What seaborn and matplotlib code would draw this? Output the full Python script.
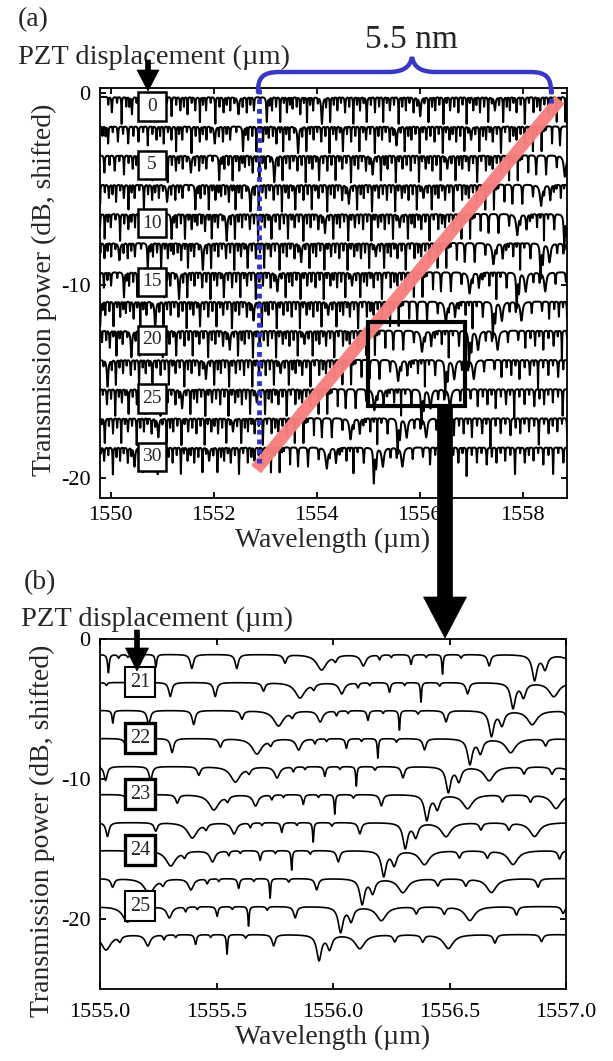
import numpy as np
import pandas as pd
import matplotlib
matplotlib.use("Agg")
import matplotlib.pyplot as plt
import seaborn as sns
from matplotlib.patches import Rectangle, Polygon, PathPatch
from matplotlib.path import Path

sns.set_style("ticks")
plt.rcParams["font.family"] = ["Liberation Serif", "DejaVu Serif"]
plt.rcParams["axes.unicode_minus"] = False

W, H = 613, 1061

# -------- DATA --------
SHIFT = 0.185  # nm of dip shift per um of PZT displacement

# panel (a): PZT displacement (um) and vertical offset of each trace (dB)
DISP_A = [0, 2.5, 5, 7.5, 10, 12.5, 15, 17.5, 20, 22.5, 25, 27.5, 30]
BASE_A = [-0.20, -1.72, -3.23, -4.75, -6.27, -7.78, -9.30, -10.82,
          -12.33, -13.85, -15.37, -16.88, -18.40]
LABEL_A = [0, 5, 10, 15, 20, 25, 30]

# panel (b)
DISP_B = [20.5, 21, 21.5, 22, 22.5, 23, 23.5, 24, 24.5, 25, 25.5]
BASE_B = [-1.1, -3.1, -5.1, -7.1, -9.1, -11.1, -13.1, -15.1, -17.1, -19.1, -21.1]
LABEL_B = [21, 22, 23, 24, 25]

A0_POS = [1550.02, 1550.21, 1550.30, 1550.41, 1550.60, 1550.80, 1551.00, 1551.18,
          1551.35, 1551.49, 1551.64, 1551.73, 1551.85, 1552.03, 1552.19, 1552.32,
          1552.48, 1552.64, 1552.78, 1553.03, 1553.13, 1553.29, 1553.42, 1553.53,
          1553.68, 1553.81, 1553.93, 1554.10, 1554.26, 1554.40, 1554.55, 1554.71,
          1554.84, 1554.97, 1555.13, 1555.29, 1555.42, 1555.59, 1555.73, 1555.88,
          1556.01, 1556.17, 1556.30, 1556.46, 1556.59, 1556.75, 1556.91, 1557.04,
          1557.17, 1557.33, 1557.46, 1557.62, 1557.75, 1557.88, 1558.04, 1558.21,
          1558.34, 1558.50, 1558.66]
A0_DEPTH = [0.8, 1.4, 0.5, 0.9, 0.8, 0.9, 0.8, 1.0,
            0.7, 0.9, 0.7, 1.3, 0.7, 1.4, 0.8, 0.7,
            0.9, 0.8, 0.7, 1.3, 0.7, 1.3, 0.8, 0.6,
            0.9, 1.3, 0.7, 1.4, 1.3, 0.7, 0.8, 1.4,
            0.7, 1.3, 0.8, 1.3, 0.7, 1.4, 0.7, 0.8,
            1.0, 1.3, 0.7, 1.4, 0.7, 0.8, 1.4, 0.7,
            0.8, 1.3, 0.7, 1.3, 0.7, 0.8, 1.4, 0.8,
            0.7, 0.9, 1.3]
A0_WIDTH = [0.008, 0.005, 0.005, 0.008, 0.008, 0.008, 0.008, 0.006,
            0.008, 0.005, 0.008, 0.005, 0.006, 0.006, 0.008, 0.005,
            0.015, 0.006, 0.008, 0.010, 0.005, 0.006, 0.006, 0.005,
            0.008, 0.005, 0.006, 0.015, 0.006, 0.005, 0.008, 0.005,
            0.006, 0.008, 0.006, 0.005, 0.008, 0.006, 0.005, 0.008,
            0.015, 0.006, 0.005, 0.006, 0.008, 0.006, 0.005, 0.008,
            0.006, 0.005, 0.015, 0.006, 0.005, 0.008, 0.006, 0.005,
            0.008, 0.006, 0.005]

# smaller dips between the main ones on the 0 um trace of (a)
A0S_POS = [1549.95, 1550.12, 1550.36, 1550.50, 1550.70, 1550.90, 1551.09, 1551.27,
           1551.42, 1551.57, 1551.79, 1551.94, 1552.11, 1552.25, 1552.40, 1552.56,
           1552.71, 1552.90, 1553.08, 1553.21, 1553.36, 1553.48, 1553.61, 1553.75,
           1553.87, 1554.02, 1554.18, 1554.33, 1554.47, 1554.63, 1554.78, 1554.91,
           1555.05, 1555.21, 1555.36, 1555.50, 1555.66, 1555.80, 1555.95, 1556.09,
           1556.24, 1556.38, 1556.52, 1556.67, 1556.83, 1556.97, 1557.10, 1557.25,
           1557.40, 1557.54, 1557.69, 1557.82, 1557.96, 1558.12, 1558.28, 1558.42,
           1558.58, 1558.73]
A0S_DEPTH = [0.4, 0.3, 0.5, 0.3, 0.4, 0.5, 0.3, 0.4,
             0.5, 0.3, 0.4, 0.3, 0.5, 0.4, 0.3, 0.5,
             0.4, 0.3, 0.4, 0.5, 0.3, 0.4, 0.5, 0.3,
             0.4, 0.3, 0.5, 0.4, 0.3, 0.5, 0.4, 0.3,
             0.4, 0.5, 0.3, 0.4, 0.5, 0.3, 0.4, 0.3,
             0.5, 0.4, 0.3, 0.5, 0.4, 0.3, 0.4, 0.5,
             0.3, 0.4, 0.5, 0.3, 0.4, 0.3, 0.5, 0.4,
             0.3, 0.4]

# dips read from the 20.5 um trace of (b)
B_POS = [1555.036, 1555.08, 1555.12, 1555.24, 1555.394, 1555.587, 1555.794,
         1555.951, 1556.01, 1556.13, 1556.20, 1556.25, 1556.335, 1556.40,
         1556.47, 1556.55, 1556.67, 1556.865, 1556.91, 1557.04, 1557.19,
         1557.31, 1557.42, 1557.62, 1557.82]
B_DEPTH = [1.3, 0.25, 0.2, 0.9, 1.0, 1.0, 0.6,
           1.1, 0.4, 0.8, 0.35, 0.2, 0.7, 0.2,
           1.4, 0.25, 0.8, 1.8, 1.0, 1.0, 0.5,
           0.5, 1.0, 0.6, 0.5]
B_WIDTH = [0.004, 0.005, 0.005, 0.004, 0.008, 0.008, 0.008,
           0.025, 0.008, 0.013, 0.005, 0.004, 0.005, 0.004,
           0.003, 0.005, 0.008, 0.012, 0.012, 0.025, 0.008,
           0.008, 0.025, 0.008, 0.008]

# dips read from the right half of the 30 um trace of (a)
A30_POS = [1556.20, 1556.30, 1556.39, 1556.47, 1556.55, 1556.65, 1556.75, 1556.83,
           1556.91, 1557.01, 1557.11, 1557.20, 1557.30, 1557.40, 1557.49, 1557.57,
           1557.66, 1557.76, 1557.85, 1557.95, 1558.04, 1558.12, 1558.21, 1558.30,
           1558.40, 1558.50, 1558.59, 1558.69, 1558.79]
A30_DEPTH = [0.9, 0.4, 0.8, 0.3, 1.0, 0.4, 0.8, 0.3,
             1.5, 0.4, 0.8, 0.3, 0.9, 0.5, 0.8, 0.3,
             0.7, 0.4, 1.4, 0.3, 0.8, 0.4, 0.7, 0.3,
             0.9, 0.4, 1.4, 0.3, 0.8]
A30_WIDTH = [0.006, 0.005, 0.006, 0.005, 0.006, 0.005, 0.008, 0.005,
             0.005, 0.005, 0.006, 0.005, 0.008, 0.005, 0.006, 0.005,
             0.005, 0.005, 0.006, 0.005, 0.008, 0.005, 0.005, 0.005,
             0.006, 0.005, 0.005, 0.005, 0.008]

# all dips referred to 0 um displacement
dip_pos = np.concatenate([A0_POS, A0S_POS, np.array(B_POS) + SHIFT * 20.5,
                          np.array(A30_POS) + SHIFT * 30])
dip_depth = np.concatenate([A0_DEPTH, A0S_DEPTH, B_DEPTH, A30_DEPTH])
dip_width = np.concatenate([A0_WIDTH, np.full(len(A0S_POS), 0.005), B_WIDTH, A30_WIDTH])


def trace(wl, disp, base):
    c = dip_pos - SHIFT * disp
    prof = dip_depth / (1 + ((wl[:, None] - c) / dip_width) ** 2)
    return base - prof.sum(axis=1)


wl_a = np.linspace(1549.79, 1558.86, 7000)
df_a = pd.concat([pd.DataFrame({"wl": wl_a, "power": trace(wl_a, d, b), "disp": d})
                  for d, b in zip(DISP_A, BASE_A)])
wl_b = np.linspace(1555.0, 1557.0, 4000)
df_b = pd.concat([pd.DataFrame({"wl": wl_b, "power": trace(wl_b, d, b), "disp": d})
                  for d, b in zip(DISP_B, BASE_B)])


def fxy(x, y):
    return (x / W, 1 - y / H)


# -------- FIGURE --------
fig = plt.figure(figsize=(W / 100, H / 100), dpi=100)
ax_a = fig.add_axes([100 / W, 1 - 498 / H, 467 / W, 410 / H])
ax_b = fig.add_axes([100 / W, 1 - 989 / H, 466 / W, 350 / H])

for ax, data, lw in [(ax_a, df_a, 1.45), (ax_b, df_b, 1.2)]:
    sns.lineplot(data=data, x="wl", y="power", units="disp", estimator=None,
                 color="black", lw=lw, sort=False, legend=False, ax=ax)
    ax.set_xlabel("")
    ax.set_ylabel("")
    for s in ax.spines.values():
        s.set_linewidth(1.3)
        s.set_color("black")
    ax.tick_params(direction="in", top=True, right=True, length=4, width=1.3,
                   labelsize=16, colors="black")
    ax.tick_params(axis="y", pad=7)

# panel (a)
ax_a.set_xlim(1549.79, 1558.86)
ax_a.set_ylim(-21.04, 0.26)
ax_a.set_xticks([1550, 1552, 1554, 1556, 1558])
ax_a.set_yticks([0, -10, -20])
ax_a.tick_params(axis="x", pad=6)

ax_a.plot([1552.82, 1558.72], [-19.55, -0.35], color="#f77f7f", lw=9,
          solid_capstyle="butt", alpha=0.97, zorder=4)
ax_a.plot([1552.88, 1552.88], [0.2, -19.2], color="#3434cc", lw=3.5,
          ls=(0, (1, 1)), zorder=5)
ax_a.plot([1558.54, 1558.54], [0.2, -0.5], color="#3434cc", lw=3.5,
          ls=(0, (1, 1)), zorder=5)
ax_a.add_patch(Rectangle((1555.0, -16.26), 1.88, 4.34, fill=False, ec="black",
                         lw=3, zorder=6))

for lab, b in zip(LABEL_A, BASE_A[::2]):
    ax_a.add_patch(Rectangle((1550.80 - 0.28, b - 0.5 - 0.73), 0.56, 1.46,
                             fc="white", ec="black", lw=1.8, zorder=7))
    ax_a.text(1550.80, b - 0.5, str(lab), ha="center", va="center",
              fontsize=14, zorder=8)

# panel (b)
ax_b.set_xlim(1555.0, 1557.0)
ax_b.set_ylim(-25, 0)
ax_b.set_xticks([1555.0, 1555.5, 1556.0, 1556.5, 1557.0])
ax_b.set_xticklabels(["1555.0", "1555.5", "1556.0", "1556.5", "1557.0"])
ax_b.set_yticks([0, -10, -20])
ax_b.tick_params(axis="x", pad=10)

for lab, b in zip(LABEL_B, BASE_B[1::2]):
    lw = 2.4 if lab in (22, 23, 24) else 1.5
    ax_b.add_patch(Rectangle((1555.172 - 0.0645, b - 1.07), 0.129, 2.14,
                             fc="white", ec="black", lw=lw, zorder=7))
    ax_b.text(1555.172, b, str(lab), ha="center", va="center",
              fontsize=14.5, zorder=8)

# -------- TEXT --------
fig.text(*fxy(33, 20), "(a)", fontsize=20, ha="center", va="center")
fig.text(*fxy(40, 583), "(b)", fontsize=20, ha="center", va="center")
fig.text(*fxy(154, 57), "PZT displacement (\u00b5m)", fontsize=20.5, ha="center", va="center")
fig.text(*fxy(157, 619), "PZT displacement (\u00b5m)", fontsize=20.5, ha="center", va="center")
fig.text(*fxy(411, 40), "5.5 nm", fontsize=24, ha="center", va="center")
fig.text(*fxy(333, 540), "Wavelength (\u00b5m)", fontsize=20, ha="center", va="center")
fig.text(*fxy(333, 1037), "Wavelength (\u00b5m)", fontsize=20, ha="center", va="center")
fig.text(*fxy(44, 290), "Transmission power (dB, shifted)", fontsize=20,
         rotation=90, ha="center", va="center")
fig.text(*fxy(42, 831), "Transmission power (dB, shifted)", fontsize=20,
         rotation=90, ha="center", va="center")

# brace over 5.5 nm
brace_pts = [(258, 92), (258, 78), (262, 72), (280, 72), (388, 72),
             (402, 72), (410, 68), (412, 57), (414, 68), (422, 72), (436, 72),
             (530, 72), (547, 72), (551, 78), (551, 92)]
codes = [Path.MOVETO, Path.CURVE4, Path.CURVE4, Path.CURVE4, Path.LINETO,
         Path.CURVE4, Path.CURVE4, Path.CURVE4, Path.CURVE4, Path.CURVE4, Path.CURVE4,
         Path.LINETO, Path.CURVE4, Path.CURVE4, Path.CURVE4]
fig.add_artist(PathPatch(Path([fxy(x, y) for x, y in brace_pts], codes),
                         transform=fig.transFigure, fill=False, ec="#3838c4",
                         lw=3.2, capstyle="round"))

# arrows
def arrow(pts):
    fig.add_artist(Polygon([fxy(x, y) for x, y in pts], closed=True,
                           transform=fig.transFigure, fc="black", ec="black",
                           lw=0.5, zorder=9))

arrow([(145.5, 60), (150.5, 60), (150.5, 70), (159, 70), (148, 91),
       (137, 70), (145.5, 70)])
arrow([(134.5, 630), (139.5, 630), (139.5, 648), (148.5, 648), (137, 671),
       (125.5, 648), (134.5, 648)])
arrow([(437.5, 408), (452.5, 408), (452.5, 597), (466.5, 597), (445, 638),
       (423.5, 597), (437.5, 597)])

fig.savefig("out.png", dpi=100)
